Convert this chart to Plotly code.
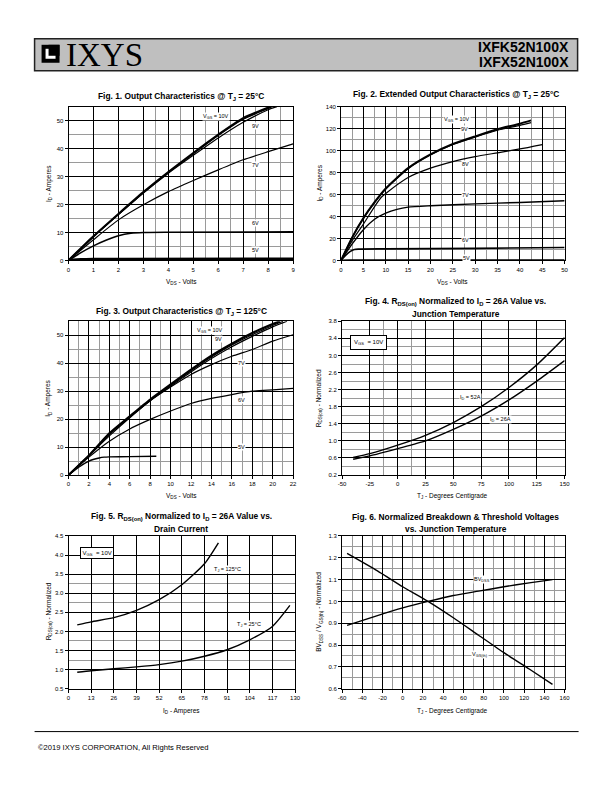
import plotly.graph_objects as go

# ---------------- data ----------------
# Fig. 1  Output characteristics @ TJ = 25C  (VDS volts, ID amperes)
f1_vds_10v = [0, 1, 2, 3, 4, 5, 6, 7, 8.1]
f1_id_10v = [0, 8.6, 16.6, 24.4, 31.6, 38.4, 45.0, 50.9, 55.0]
f1_vds_9v = [0, 1, 2, 3, 4, 5, 6, 7, 8, 8.15]
f1_id_9v = [0, 8.6, 16.5, 24.3, 31.5, 38.2, 44.7, 50.5, 54.4, 55.0]
f1_vds_8v = [0, 1, 2, 3, 4, 5, 6, 7, 8, 8.35]
f1_id_8v = [0, 8.5, 16.4, 24.1, 31.2, 37.6, 43.8, 49.4, 53.9, 55.0]
f1_vds_7v = [0, 1, 2, 3, 4, 5, 6, 7, 8, 9]
f1_id_7v = [0, 7.4, 14.5, 19.9, 24.6, 28.6, 32.4, 36.0, 38.9, 41.7]
f1_vds_6v = [0, 0.5, 1, 1.5, 2, 2.5, 3, 4, 9]
f1_id_6v = [0, 2.8, 5.2, 7.2, 8.8, 9.7, 10.0, 10.1, 10.2]
f1_vds_5v = [0, 0.5, 1, 2, 9]
f1_id_5v = [0, 0.3, 0.4, 0.45, 0.5]

# Fig. 2  Extended output characteristics @ TJ = 25C
f2_vds_10v = [0, 2.5, 5, 7.5, 10, 15, 20, 25, 30, 35, 40, 42.5]
f2_id_10v = [0, 21, 38.5, 53, 65.5, 84, 96.5, 106, 113, 119.5, 124.5, 127.5]
f2_vds_9v = [0, 2.5, 5, 7.5, 10, 15, 20, 25, 30, 35, 40, 42.5]
f2_id_9v = [0, 21, 38.3, 52.7, 65, 83.5, 96, 105.5, 112.3, 118.5, 123, 125.5]
f2_vds_8v = [0, 2.5, 5, 7.5, 9, 10, 15, 20, 25, 30, 35, 40, 45]
f2_id_8v = [0, 18, 33, 49, 57.5, 61, 75.5, 84, 90, 94.5, 98, 101.5, 105.5]
f2_vds_7v = [0, 2.5, 5, 7.5, 10, 12.5, 15, 20, 30, 40, 50]
f2_id_7v = [0, 15, 28, 37.5, 43, 46.5, 48.5, 49.8, 51.5, 52.8, 54.3]
f2_vds_6v = [0, 1, 2, 3, 4, 10, 30, 50]
f2_id_6v = [0, 4.5, 8, 10, 10.3, 10.5, 11, 11.8]
f2_vds_5v = [0, 2, 50]
f2_id_5v = [0, 0.3, 0.4]

# Fig. 3  Output characteristics @ TJ = 125C
f3_vds_10v = [0, 2, 4, 6, 8, 10, 12, 14, 16, 18, 20, 20.7]
f3_id_10v = [0, 7.0, 14.9, 21.0, 27.0, 32.4, 37.7, 42.7, 47.0, 50.8, 54.0, 55.0]
f3_vds_9v = [0, 2, 4, 6, 8, 10, 12, 14, 16, 18, 20, 21.0]
f3_id_9v = [0, 7.0, 14.8, 20.9, 26.8, 32.1, 37.3, 42.2, 46.5, 50.2, 53.5, 55.0]
f3_vds_8v = [0, 2, 4, 6, 8, 10, 12, 14, 16, 18, 20, 21.4]
f3_id_8v = [0, 7.0, 14.7, 20.8, 26.6, 31.8, 36.9, 41.7, 45.9, 49.6, 53.0, 55.0]
f3_vds_7v = [0, 2, 4, 6, 8, 10, 12, 14, 16, 18, 20, 22]
f3_id_7v = [0, 6.9, 14.0, 20.5, 26.6, 31.5, 36.0, 39.5, 42.5, 44.9, 47.9, 50.2]
f3_vds_6v = [0, 2, 4, 6, 8, 10, 12, 14, 16, 18, 20, 22]
f3_id_6v = [0, 6.4, 12.1, 16.5, 19.9, 22.9, 25.6, 27.4, 28.8, 30.0, 30.5, 31.0]
f3_vds_5v = [0, 1, 2, 3, 3.5, 4, 6, 8.6]
f3_id_5v = [0, 2.8, 5.0, 6.1, 6.4, 6.5, 6.6, 6.7]

# Fig. 4  RDS(on) normalized vs junction temperature
f4_tj = [-40, -25, 0, 25, 50, 75, 100, 125, 150]
f4_r_52a = [0.61, 0.70, 0.90, 1.13, 1.43, 1.80, 2.25, 2.78, 3.42]
f4_r_26a = [0.57, 0.65, 0.82, 1.00, 1.27, 1.58, 1.96, 2.40, 2.88]

# Fig. 5  RDS(on) normalized vs drain current
f5_id_125c = [5, 13, 26, 39, 52, 65, 78, 86]
f5_r_125c = [2.17, 2.25, 2.36, 2.55, 2.83, 3.22, 3.77, 4.32]
f5_id_25c = [5, 13, 26, 39, 52, 65, 78, 91, 104, 117, 127]
f5_r_25c = [0.93, 0.97, 1.02, 1.07, 1.13, 1.22, 1.35, 1.52, 1.78, 2.13, 2.68]

# Fig. 6  normalized breakdown & threshold voltages
f6_tj = [-55, -25, 0, 25, 50, 75, 100, 125, 148]
f6_bvdss = [0.89, 0.935, 0.97, 1.0, 1.027, 1.047, 1.067, 1.085, 1.10]
f6_vgsth = [1.22, 1.14, 1.067, 1.0, 0.925, 0.845, 0.765, 0.69, 0.62]

# tick values / labels
f1_xticks = list(range(0, 10))
f1_xminor = [3.5, 4.5, 5.5, 6.5, 7.5, 8.5]
f1_yticks = [0, 10, 20, 30, 40, 50]
f1_yminor = [5, 15, 25, 35, 45]
f2_xticks = list(range(0, 55, 5))
f2_xminor = [2.5 + 5 * i for i in range(10)]
f2_yticks = list(range(0, 160, 20))
f2_yminor = list(range(10, 140, 20))
f3_xticks = list(range(0, 24, 2))
f3_xminor = list(range(1, 23, 2))
f4_xticks = [-50, -25, 0, 25, 50, 75, 100, 125, 150]
f4_xminor = [-12.5, 12.5]
f4_yticks = [0.2, 0.6, 1.0, 1.4, 1.8, 2.2, 2.6, 3.0, 3.4, 3.8]
f4_yminor = [0.4, 0.8, 1.2, 1.6, 2.0, 2.4, 2.8, 3.2, 3.6]
f5_xticks = list(range(0, 131, 13))
f5_yticks = [0.5, 1.0, 1.5, 2.0, 2.5, 3.0, 3.5, 4.0, 4.5]
f5_yminor = [1.25, 1.75, 2.75, 3.25]
f6_xticks = list(range(-60, 161, 20))
f6_xminor = list(range(-50, 151, 20))
f6_yticks = [0.6, 0.7, 0.8, 0.9, 1.0, 1.1, 1.2, 1.3]
f6_yminor = [0.65, 0.75, 0.85, 0.95, 1.05, 1.15, 1.25]

# the page body keeps its default 8px margin, so the figure is drawn 8px in;
# the snapshot also comes out slightly squeezed, so positions are pre-stretched
OFF = 8
W, H = 612 - 2 * OFF, 792 - 2 * OFF
SX, AX = 0.985, 2.5
SY, AY = 0.994, 1.2
FONT = "Liberation Sans"


def px(x):
    return ((x - AX) / SX - OFF) / W


def py(y):
    return 1 - ((y - AY) / SY - OFF) / H


def label(v, fmt):
    return (fmt % v).replace("\u2212", "-")


def make_axis(dom, rng, ticks, minor, fmt, anchor):
    ax = dict(
        domain=dom, range=rng, anchor=anchor,
        tickmode="array", tickvals=ticks, ticktext=[label(t, fmt) for t in ticks],
        showline=True, linecolor="black", linewidth=1, mirror=True,
        ticks="outside", ticklen=3, tickwidth=1, tickcolor="black",
        showgrid=True, gridcolor="black", gridwidth=1, zeroline=False,
        tickfont=dict(family=FONT, size=6, color="black"),
    )
    if minor:
        ax["minor"] = dict(tickmode="array", tickvals=minor, showgrid=True,
                           gridcolor="#9a9a9a", gridwidth=1, ticks="")
    return ax


fig = go.Figure()


def curve(x, y, n, w=1.2):
    fig.add_trace(go.Scatter(
        x=x, y=y, mode="lines", line=dict(color="black", width=w, shape="spline", smoothing=0.6),
        xaxis="x" + ("" if n == 1 else str(n)), yaxis="y" + ("" if n == 1 else str(n)),
        hoverinfo="skip", showlegend=False))


# Fig 1
curve(f1_vds_5v, f1_id_5v, 1, 3)
curve(f1_vds_6v, f1_id_6v, 1, 1.6)
curve(f1_vds_7v, f1_id_7v, 1)
curve(f1_vds_8v, f1_id_8v, 1)
curve(f1_vds_9v, f1_id_9v, 1)
curve(f1_vds_10v, f1_id_10v, 1, 2.2)
# Fig 2
curve(f2_vds_5v, f2_id_5v, 2, 1.6)
curve(f2_vds_6v, f2_id_6v, 2, 1.6)
curve(f2_vds_7v, f2_id_7v, 2, 1.4)
curve(f2_vds_8v, f2_id_8v, 2)
curve(f2_vds_9v, f2_id_9v, 2)
curve(f2_vds_10v, f2_id_10v, 2, 2)
# Fig 3
curve(f3_vds_5v, f3_id_5v, 3, 1.4)
curve(f3_vds_6v, f3_id_6v, 3)
curve(f3_vds_7v, f3_id_7v, 3)
curve(f3_vds_8v, f3_id_8v, 3)
curve(f3_vds_9v, f3_id_9v, 3)
curve(f3_vds_10v, f3_id_10v, 3, 2.2)
# Fig 4
curve(f4_tj, f4_r_52a, 4, 1.4)
curve(f4_tj, f4_r_26a, 4, 1.4)
# Fig 5
curve(f5_id_125c, f5_r_125c, 5, 1.4)
curve(f5_id_25c, f5_r_25c, 5, 1.4)
# Fig 6
curve(f6_tj, f6_bvdss, 6, 1.4)
curve(f6_tj, f6_vgsth, 6, 1.4)

# plot areas in page pixels: left, right, top, bottom
boxes = {
    1: (67, 292, 105, 259),
    2: (340, 564, 105, 259),
    3: (67, 292, 320, 474),
    4: (341, 564, 320, 474),
    5: (67, 294, 535, 688),
    6: (341, 564, 535, 688),
}
specs = {
    1: ([0, 9], f1_xticks, f1_xminor, "%g", [0, 55], f1_yticks, f1_yminor, "%g"),
    2: ([0, 50], f2_xticks, f2_xminor, "%g", [0, 140], f2_yticks, f2_yminor, "%g"),
    3: ([0, 22], f3_xticks, f3_xminor, "%g", [0, 55], f1_yticks, f1_yminor, "%g"),
    4: ([-50, 150], f4_xticks, f4_xminor, "%g", [0.2, 3.8], f4_yticks, f4_yminor, "%.1f"),
    5: ([0, 130], f5_xticks, None, "%g", [0.5, 4.5], f5_yticks, f5_yminor, "%.1f"),
    6: ([-60, 160], f6_xticks, f6_xminor, "%g", [0.6, 1.3], f6_yticks, f6_yminor, "%.1f"),
}
layout_axes = {}
for n, (l, r, t, b) in boxes.items():
    xr, xt, xm, xf, yr, yt, ym, yf = specs[n]
    sfx = "" if n == 1 else str(n)
    layout_axes["xaxis" + sfx] = make_axis([px(l), px(r)], xr, xt, xm, xf, "y" + sfx)
    layout_axes["yaxis" + sfx] = make_axis([py(b), py(t)], yr, yt, ym, yf, "x" + sfx)

ann = []


def text(x, y, s, size=6, bold=False, angle=0, xanchor="center", family=FONT):
    ann.append(dict(x=px(x), y=py(y), xref="paper", yref="paper", text=s, showarrow=False,
                    textangle=angle, xanchor=xanchor, yanchor="middle",
                    font=dict(family=family, size=size, color="black",
                              weight="bold" if bold else "normal")))


def curve_label(n, x, y, s, box=0):
    sfx = "" if n == 1 else str(n)
    d = dict(x=x, y=y, xref="x" + sfx, yref="y" + sfx, text=s, showarrow=False,
             bgcolor="white", borderpad=box if box else 0,
             font=dict(family=FONT, size=6 if box else 5.5, color="black"))
    if box:
        d.update(bordercolor="black", borderwidth=1)
    ann.append(d)


# titles
text(180, 95, "Fig. 1. Output Characteristics @ T<sub>J</sub> = 25°C", 8.4, True)
text(455, 93, "Fig. 2. Extended Output Characteristics @ T<sub>J</sub> = 25°C", 8.4, True)
text(180, 310, "Fig. 3. Output Characteristics @ T<sub>J</sub> = 125°C", 8.4, True)
text(455, 300, "Fig. 4. R<sub>DS(on)</sub> Normalized to I<sub>D</sub> = 26A Value vs.", 8.4, True)
text(455, 313, "Junction Temperature", 8.4, True)
text(180, 516, "Fig. 5. R<sub>DS(on)</sub> Normalized to I<sub>D</sub> = 26A Value vs.", 8.4, True)
text(180, 528, "Drain Current", 8.4, True)
text(455, 516, "Fig. 6. Normalized Breakdown & Threshold Voltages", 8.4, True)
text(455, 528, "vs. Junction Temperature", 8.4, True)

# axis titles
text(180, 281, "V<sub>DS</sub> - Volts", 6.5)
text(452, 281, "V<sub>DS</sub> - Volts", 6.5)
text(180, 495, "V<sub>DS</sub> - Volts", 6.5)
text(452, 495, "T<sub>J</sub> - Degrees Centigrade", 6.5)
text(180, 710, "I<sub>D</sub> - Amperes", 6.5)
text(452, 710, "T<sub>J</sub> - Degrees Centigrade", 6.5)
text(47, 182, "I<sub>D</sub> - Amperes", 6.5, angle=-90)
text(318, 182, "I<sub>D</sub> - Amperes", 6.5, angle=-90)
text(47, 397, "I<sub>D</sub> - Amperes", 6.5, angle=-90)
text(318, 397, "R<sub>DS(on)</sub> - Normalized", 6.5, angle=-90)
text(47, 611, "R<sub>DS(on)</sub> - Normalized", 6.5, angle=-90)
text(318, 611, "BV<sub>DSS</sub> / V<sub>GS(th)</sub> - Normalized", 6.5, angle=-90)

# curve labels
curve_label(1, 5.9, 51.4, "V<sub>GS</sub> = 10V")
curve_label(1, 7.5, 48, "9V")
curve_label(1, 7.5, 34.2, "7V")
curve_label(1, 7.5, 13.3, "6V")
curve_label(1, 7.5, 3.8, "5V")
curve_label(2, 26, 128.5, "V<sub>GS</sub> = 10V")
curve_label(2, 27.6, 120, "9V")
curve_label(2, 27.9, 87.6, "8V")
curve_label(2, 27.9, 59.7, "7V")
curve_label(2, 27.9, 18.8, "6V")
curve_label(2, 28.0, 2, "5V")
curve_label(3, 13.9, 51.8, "V<sub>GS</sub> = 10V")
curve_label(3, 14.7, 48.8, "9V")
curve_label(3, 16.9, 40.1, "7V")
curve_label(3, 16.9, 26.7, "6V")
curve_label(3, 16.9, 10, "5V")
curve_label(4, -26, 3.31, "V<sub>GS</sub>  = 10V", box=3)
curve_label(4, 65, 2.02, "I<sub>D</sub> = 52A")
curve_label(4, 92.6, 1.49, "I<sub>D</sub> = 26A")
curve_label(5, 16.2, 4.06, "V<sub>GS</sub>  = 10V", box=1.5)
curve_label(5, 91.5, 3.63, "T<sub>J</sub> = 125°C")
curve_label(5, 103.8, 2.19, "T<sub>J</sub> = 25°C")
curve_label(6, 78, 1.1, "BV<sub>DSS</sub>")
curve_label(6, 76, 0.755, "V<sub>GS(th)</sub>")

# header and footer
text(62, 53, "IXYS", 33, family="Liberation Serif", xanchor="left")
text(570, 45, "IXFK52N100X", 14, True, xanchor="right")
text(570, 60, "IXFX52N100X", 14, True, xanchor="right")
text(34, 747, "©2019 IXYS CORPORATION, All Rights Reserved", 7.6, xanchor="left")

shapes = [
    dict(type="rect", xref="paper", yref="paper", x0=px(33), x1=px(577), y0=py(69), y1=py(37),
         fillcolor="#bfbfbf", line=dict(color="#222222", width=1.5), layer="below"),
    dict(type="rect", xref="paper", yref="paper", x0=px(40), x1=px(58), y0=py(61), y1=py(43),
         fillcolor="black", line=dict(width=0)),
    dict(type="rect", xref="paper", yref="paper", x0=px(44), x1=px(54), y0=py(57), y1=py(47),
         fillcolor="white", line=dict(width=0)),
    dict(type="rect", xref="paper", yref="paper", x0=px(47), x1=px(58), y0=py(54), y1=py(43),
         fillcolor="black", line=dict(width=0)),
    dict(type="line", xref="paper", yref="paper", x0=px(33), x1=px(578), y0=py(731), y1=py(731),
         line=dict(color="black", width=1)),
]

fig.update_layout(
    width=W, height=H, margin=dict(l=0, r=0, t=0, b=0),
    paper_bgcolor="white", plot_bgcolor="white", showlegend=False,
    font=dict(family=FONT, color="black"),
    annotations=ann, shapes=shapes, **layout_axes,
)

fig.write_html("out.html")
